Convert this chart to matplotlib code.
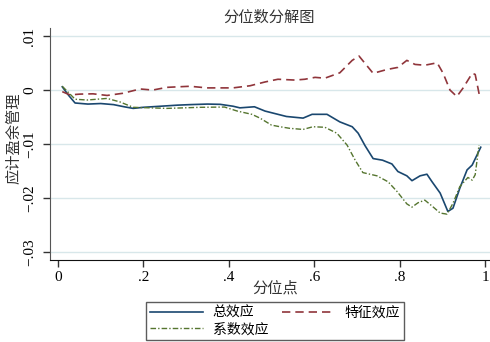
import matplotlib
matplotlib.use("Agg")
import matplotlib.pyplot as plt
import numpy as np

plt.rcParams['font.family'] = ['Liberation Serif', 'Noto Sans CJK SC', 'DejaVu Sans']
plt.rcParams['axes.unicode_minus'] = True

# 总效应
total_x = [0.01, 0.025, 0.04, 0.07, 0.10, 0.13, 0.155, 0.176, 0.20, 0.24, 0.28, 0.31, 0.35, 0.38,
           0.41, 0.426, 0.46, 0.485, 0.51, 0.535, 0.574, 0.595, 0.63, 0.66, 0.689, 0.703, 0.719,
           0.738, 0.76, 0.782, 0.796, 0.817, 0.829, 0.848, 0.864, 0.876, 0.895, 0.913, 0.925,
           0.941, 0.958, 0.97, 0.99]
total_y = [0.6, -1.0, -2.4, -2.6, -2.5, -2.7, -3.1, -3.4, -3.2, -3.0, -2.8, -2.7, -2.6, -2.65,
           -3.0, -3.3, -3.1, -3.9, -4.4, -4.9, -5.2, -4.5, -4.5, -5.9, -6.8, -8.0, -10.3,
           -12.7, -13.0, -13.7, -15.1, -15.9, -16.8, -15.9, -15.6, -17.0, -19.1, -22.5, -21.9,
           -18.2, -14.8, -13.9, -10.6]

# 特征效应
feat_x = [0.01, 0.028, 0.052, 0.082, 0.115, 0.152, 0.192, 0.222, 0.255, 0.309, 0.349, 0.41,
          0.45, 0.485, 0.515, 0.555, 0.578, 0.602, 0.625, 0.66, 0.689, 0.705, 0.738, 0.77,
          0.796, 0.817, 0.836, 0.859, 0.888, 0.902, 0.918, 0.934, 0.948, 0.97, 0.977, 0.988]
feat_y = [-0.3, -0.9, -0.75, -0.7, -1.0, -0.6, 0.2, 0.0, 0.5, 0.7, 0.4, 0.4,
          0.8, 1.5, 2.0, 1.85, 2.0, 2.35, 2.2, 3.2, 5.5, 6.3, 3.1, 3.8,
          4.2, 5.5, 4.75, 4.6, 5.05, 3.1, 0.0, -1.2, 0.3, 3.1, 2.9, -1.4]

# 系数效应
coef_x = [0.01, 0.04, 0.068, 0.115, 0.145, 0.176, 0.255, 0.333, 0.39, 0.42, 0.454, 0.473,
          0.50, 0.52, 0.543, 0.574, 0.597, 0.625, 0.653, 0.677, 0.696, 0.714, 0.747, 0.773,
          0.794, 0.817, 0.829, 0.843, 0.859, 0.876, 0.895, 0.911, 0.925, 0.941, 0.96, 0.97,
          0.977, 0.986]
coef_y = [0.7, -1.7, -1.85, -1.55, -2.2, -3.2, -3.4, -3.2, -3.15, -3.9, -4.5, -5.2,
          -6.5, -6.8, -7.1, -7.3, -6.8, -6.9, -8.0, -10.2, -13.0, -15.3, -15.9, -17.0,
          -18.8, -21.1, -21.7, -20.9, -20.4, -21.5, -22.8, -23.0, -21.0, -17.9, -16.2, -16.7,
          -15.7, -10.2]

xticks = [0, 0.2, 0.4, 0.6, 0.8, 1.0]
xticklabels = ["0", ".2", ".4", ".6", ".8", "1"]
yticks = [-0.03, -0.02, -0.01, 0.0, 0.01]
yticklabels = ["\u2212.03", "\u2212.02", "\u2212.01", "0", ".01"]

fig = plt.figure(figsize=(4.9, 3.42), dpi=100)
ax = fig.add_axes([50/490, 1-260/342, 440/490, 232/342])

navy = '#1a476f'
maroon = '#90353b'
green = '#55752f'

h_total, = ax.plot(total_x, np.array(total_y)/1000, color=navy, lw=1.2, label='总效应')
h_feat, = ax.plot(feat_x, np.array(feat_y)/1000, color=maroon, lw=1.2, ls=(0, (5, 3)), label='特征效应')
h_coef, = ax.plot(coef_x, np.array(coef_y)/1000, color=green, lw=1.0, ls=(0, (4, 1.5, 1, 1.5)), label='系数效应')

ax.set_xlim((50-58)/427, (490-58)/427)
ax.set_ylim(-0.0315, 0.0115)
ax.set_xticks(xticks)
ax.set_xticklabels(xticklabels, fontsize=11)
ax.set_yticks(yticks)
ax.set_yticklabels(yticklabels, fontsize=11, rotation=90, va='center')
ax.tick_params(axis='both', direction='out', length=5, width=1, color='#333333', pad=3)
ax.tick_params(axis='y', pad=5)
ax.grid(axis='y', color='#d8e7ea', lw=1)
ax.set_axisbelow(True)
for s in ['top', 'right']:
    ax.spines[s].set_visible(False)
ax.spines['left'].set_color('#555555')
ax.spines['bottom'].set_color('#111111')

fig.text(275/490, 1-288/342, '分位点', ha='center', va='center', fontsize=11, color='#333333')
fig.text(14/490, 1-138/342, '应计盈余管理', ha='center', va='center', rotation=90,
         fontsize=11, color='#333333')
fig.text(269/490, 1-18/342, '分位数分解图', ha='center', va='center', fontsize=11, color='#333333')

leg = fig.legend([h_total, h_coef, h_feat], ['总效应', '系数效应', '特征效应'],
                 loc='upper center', bbox_to_anchor=(275/490, 1-302/342), ncol=2,
                 fontsize=10, frameon=True, fancybox=False, edgecolor='#333333',
                 handlelength=3.8, columnspacing=1.0, handletextpad=0.7,
                 borderpad=0.3, labelspacing=0.25, borderaxespad=0)
leg.get_frame().set_linewidth(1)

fig.savefig('out.png', dpi=100)
